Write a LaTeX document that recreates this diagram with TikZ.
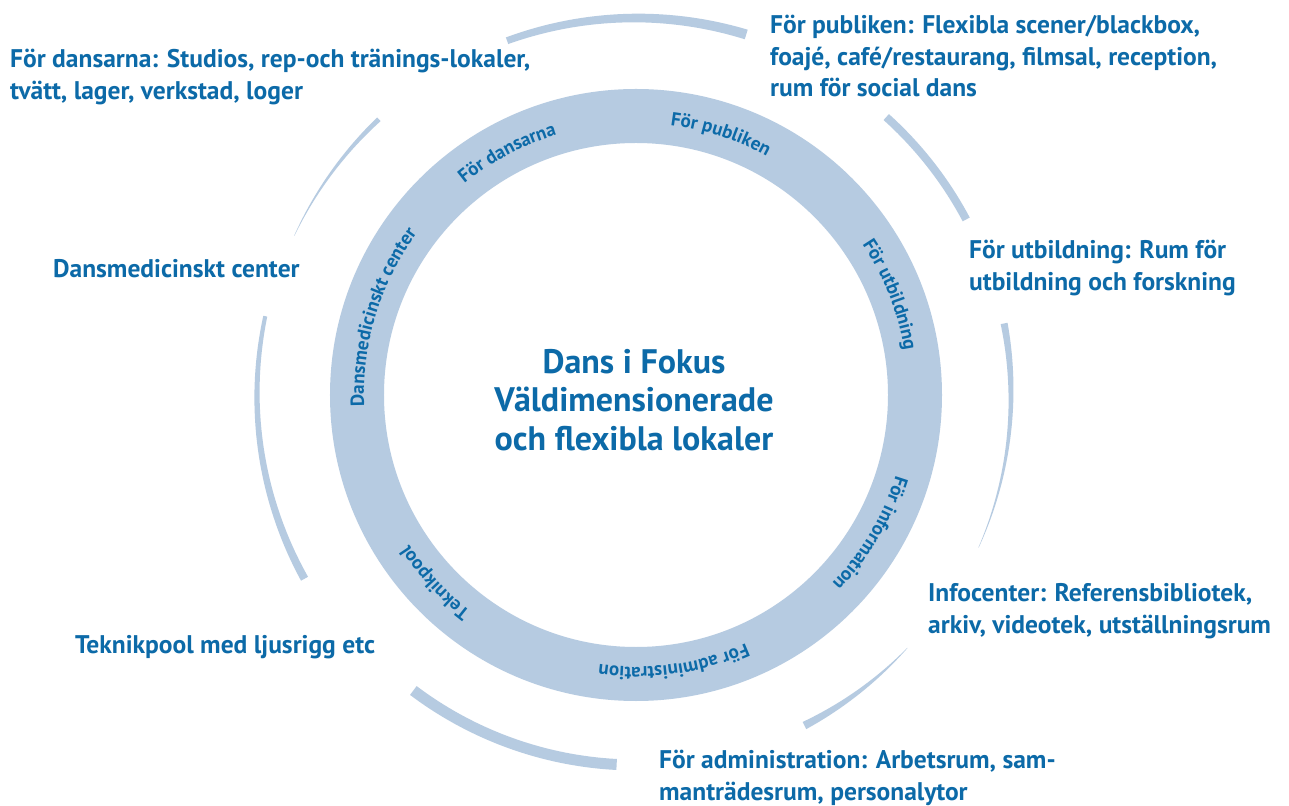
\documentclass[tikz,border=0pt]{standalone}
\usepackage{fontspec}
\setmainfont{PT Sans}
\usetikzlibrary{decorations.text}
\definecolor{txt}{RGB}{12,106,168}
\definecolor{ringc}{RGB}{182,203,225}
\newcommand\taperarc[5]{% start, end, width at start, width at end, radius
  \fill[ringc] plot[domain=#1:#2, samples=60, variable=\t]
    ({(#5+(#3+(#4-#3)*(\t-#1)/(#2-#1))/2)*cos(\t)},
     {(#5+(#3+(#4-#3)*(\t-#1)/(#2-#1))/2)*sin(\t)})
   -- plot[domain=#2:#1, samples=60, variable=\t]
    ({(#5-(#3+(#4-#3)*(\t-#1)/(#2-#1))/2)*cos(\t)},
     {(#5-(#3+(#4-#3)*(\t-#1)/(#2-#1))/2)*sin(\t)}) -- cycle;}
\newcommand\ringlabel[2]{% center angle, text
  \path[decorate, decoration={text along path, text align=center,
      text color=txt, text={|\bfseries\fontsize{19}{19}\selectfont|#2}}]
    (#1+70:272) arc[start angle=#1+70, end angle=#1-70, radius=272];}
\begin{document}
\begin{tikzpicture}[x=1pt, y=1pt,
  lab/.style={text=txt, font=\bfseries\fontsize{25.5}{31.5}\selectfont,
    align=left, anchor=west, inner sep=0pt},
  centre/.style={text=txt, font=\bfseries\fontsize{34}{38.5}\selectfont,
    align=center, inner sep=0pt}]
\useasboundingbox[fill=white] (-636,-410) rectangle (653,395);
% main ring
\fill[ringc, even odd rule] (0,0) circle[radius=306] (0,0) circle[radius=252];
% outer tapered arcs
\taperarc{133}{155}{5}{0.3}{377}
\taperarc{73}{110}{10}{7}{377}
\taperarc{28}{48}{8}{8}{374}
\taperarc{-24}{11}{0.3}{7}{375}
\taperarc{-63}{-43}{8}{0.3}{371}
\taperarc{-127}{-93}{11}{11}{370}
\taperarc{168}{209}{4}{8}{379}
% ring labels
\ringlabel{118}{För dansarna}
\ringlabel{72}{För publiken}
\ringlabel{21.5}{För utbildning}
\ringlabel{-30.5}{För information}
\ringlabel{-82}{För administration}
\ringlabel{-137}{Teknikpool}
\ringlabel{163}{Dansmedicinskt center}
% centre
\node[centre] (c) at (-2,-5) {Dans i Fokus\\Väldimensionerade\\och flexibla lokaler};
% outer labels
\node[lab] (dans) at (-626,318) {För dansarna: Studios, rep-och tränings-lokaler,\\tvätt, lager, verkstad, loger};
\node[lab] (publ) at (134,339) {För publiken: Flexibla scener/blackbox,\\foajé, café/restaurang, filmsal, reception,\\rum för social dans};
\node[lab] (utb) at (333,127) {För utbildning: Rum för\\utbildning och forskning};
\node[lab] (med) at (-583,126) {Dansmedicinskt center};
\node[lab] (info) at (292,-216) {Infocenter: Referensbibliotek,\\arkiv, videotek, utställningsrum};
\node[lab] (tek) at (-561,-252) {Teknikpool med ljusrigg etc};
\node[lab] (adm) at (23,-383) {För administration: Arbetsrum, sam-\\manträdesrum, personalytor};
\end{tikzpicture}
\end{document}
